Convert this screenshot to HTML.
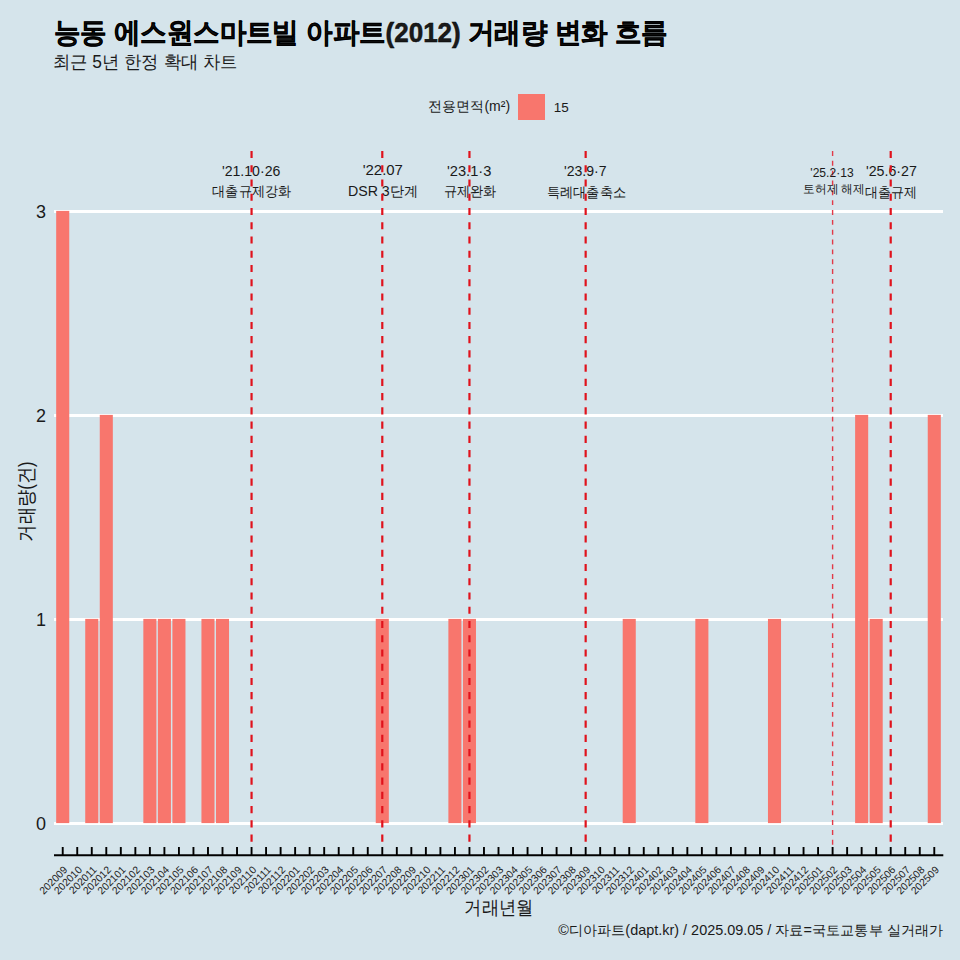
<!DOCTYPE html>
<html><head><meta charset="utf-8"><style>
html,body{margin:0;padding:0;background:#d5e4eb;width:960px;height:960px;overflow:hidden}
svg{position:absolute;left:0;top:0}
text{font-family:"Liberation Sans",sans-serif;fill:#1a1a1a}
.xl{fill:#222}
</style></head><body>
<svg width="960" height="960" viewBox="0 0 960 960">
<text id="t_title" x="53.52" y="42.44" font-size="27.50" font-weight="bold" fill="#000" textLength="614.16" lengthAdjust="spacingAndGlyphs" stroke="#000" stroke-width="0.5">능동 에스원스마트빌 아파트(2012) 거래량 변화 흐름</text>
<text id="t_sub" x="52.60" y="68.38" font-size="18.00" fill="#222" textLength="185.25" lengthAdjust="spacingAndGlyphs">최근 5년 한정 확대 차트</text>
<text id="t_legt" x="428.40" y="111.30" font-size="14.00" fill="#111" textLength="81.67" lengthAdjust="spacingAndGlyphs">전용면적(m²)</text>
<rect x="518" y="94" width="27" height="26" fill="#F8766D"/>
<text id="t_15" x="553.68" y="111.58" font-size="12.00" fill="#111" textLength="14.99" lengthAdjust="spacingAndGlyphs">15</text>
<line x1="54.0" x2="943.0" y1="823.50" y2="823.50" stroke="#fff" stroke-width="2.8"/>
<line x1="54.0" x2="943.0" y1="619.50" y2="619.50" stroke="#fff" stroke-width="2.8"/>
<line x1="54.0" x2="943.0" y1="415.50" y2="415.50" stroke="#fff" stroke-width="2.8"/>
<line x1="54.0" x2="943.0" y1="211.50" y2="211.50" stroke="#fff" stroke-width="2.8"/>
<rect x="56.18" y="210.90" width="13.07" height="612.20" fill="#F8766D"/>
<rect x="85.23" y="618.90" width="13.07" height="204.20" fill="#F8766D"/>
<rect x="99.76" y="414.90" width="13.07" height="408.20" fill="#F8766D"/>
<rect x="143.34" y="618.90" width="13.07" height="204.20" fill="#F8766D"/>
<rect x="157.86" y="618.90" width="13.07" height="204.20" fill="#F8766D"/>
<rect x="172.39" y="618.90" width="13.07" height="204.20" fill="#F8766D"/>
<rect x="201.44" y="618.90" width="13.07" height="204.20" fill="#F8766D"/>
<rect x="215.97" y="618.90" width="13.07" height="204.20" fill="#F8766D"/>
<rect x="375.75" y="618.90" width="13.07" height="204.20" fill="#F8766D"/>
<rect x="448.38" y="618.90" width="13.07" height="204.20" fill="#F8766D"/>
<rect x="462.91" y="618.90" width="13.07" height="204.20" fill="#F8766D"/>
<rect x="622.70" y="618.90" width="13.07" height="204.20" fill="#F8766D"/>
<rect x="695.33" y="618.90" width="13.07" height="204.20" fill="#F8766D"/>
<rect x="767.96" y="618.90" width="13.07" height="204.20" fill="#F8766D"/>
<rect x="855.12" y="414.90" width="13.07" height="408.20" fill="#F8766D"/>
<rect x="869.64" y="618.90" width="13.07" height="204.20" fill="#F8766D"/>
<rect x="927.75" y="414.90" width="13.07" height="408.20" fill="#F8766D"/>
<line x1="54.0" x2="943.3" y1="855.2" y2="855.2" stroke="#000" stroke-width="1.9"/>
<line x1="62.72" x2="62.72" y1="847" y2="855.2" stroke="#000" stroke-width="1.9"/>
<line x1="77.24" x2="77.24" y1="847" y2="855.2" stroke="#000" stroke-width="1.9"/>
<line x1="91.77" x2="91.77" y1="847" y2="855.2" stroke="#000" stroke-width="1.9"/>
<line x1="106.29" x2="106.29" y1="847" y2="855.2" stroke="#000" stroke-width="1.9"/>
<line x1="120.82" x2="120.82" y1="847" y2="855.2" stroke="#000" stroke-width="1.9"/>
<line x1="135.35" x2="135.35" y1="847" y2="855.2" stroke="#000" stroke-width="1.9"/>
<line x1="149.87" x2="149.87" y1="847" y2="855.2" stroke="#000" stroke-width="1.9"/>
<line x1="164.40" x2="164.40" y1="847" y2="855.2" stroke="#000" stroke-width="1.9"/>
<line x1="178.92" x2="178.92" y1="847" y2="855.2" stroke="#000" stroke-width="1.9"/>
<line x1="193.45" x2="193.45" y1="847" y2="855.2" stroke="#000" stroke-width="1.9"/>
<line x1="207.98" x2="207.98" y1="847" y2="855.2" stroke="#000" stroke-width="1.9"/>
<line x1="222.50" x2="222.50" y1="847" y2="855.2" stroke="#000" stroke-width="1.9"/>
<line x1="237.03" x2="237.03" y1="847" y2="855.2" stroke="#000" stroke-width="1.9"/>
<line x1="251.56" x2="251.56" y1="847" y2="855.2" stroke="#000" stroke-width="1.9"/>
<line x1="266.08" x2="266.08" y1="847" y2="855.2" stroke="#000" stroke-width="1.9"/>
<line x1="280.61" x2="280.61" y1="847" y2="855.2" stroke="#000" stroke-width="1.9"/>
<line x1="295.13" x2="295.13" y1="847" y2="855.2" stroke="#000" stroke-width="1.9"/>
<line x1="309.66" x2="309.66" y1="847" y2="855.2" stroke="#000" stroke-width="1.9"/>
<line x1="324.19" x2="324.19" y1="847" y2="855.2" stroke="#000" stroke-width="1.9"/>
<line x1="338.71" x2="338.71" y1="847" y2="855.2" stroke="#000" stroke-width="1.9"/>
<line x1="353.24" x2="353.24" y1="847" y2="855.2" stroke="#000" stroke-width="1.9"/>
<line x1="367.76" x2="367.76" y1="847" y2="855.2" stroke="#000" stroke-width="1.9"/>
<line x1="382.29" x2="382.29" y1="847" y2="855.2" stroke="#000" stroke-width="1.9"/>
<line x1="396.82" x2="396.82" y1="847" y2="855.2" stroke="#000" stroke-width="1.9"/>
<line x1="411.34" x2="411.34" y1="847" y2="855.2" stroke="#000" stroke-width="1.9"/>
<line x1="425.87" x2="425.87" y1="847" y2="855.2" stroke="#000" stroke-width="1.9"/>
<line x1="440.40" x2="440.40" y1="847" y2="855.2" stroke="#000" stroke-width="1.9"/>
<line x1="454.92" x2="454.92" y1="847" y2="855.2" stroke="#000" stroke-width="1.9"/>
<line x1="469.45" x2="469.45" y1="847" y2="855.2" stroke="#000" stroke-width="1.9"/>
<line x1="483.97" x2="483.97" y1="847" y2="855.2" stroke="#000" stroke-width="1.9"/>
<line x1="498.50" x2="498.50" y1="847" y2="855.2" stroke="#000" stroke-width="1.9"/>
<line x1="513.03" x2="513.03" y1="847" y2="855.2" stroke="#000" stroke-width="1.9"/>
<line x1="527.55" x2="527.55" y1="847" y2="855.2" stroke="#000" stroke-width="1.9"/>
<line x1="542.08" x2="542.08" y1="847" y2="855.2" stroke="#000" stroke-width="1.9"/>
<line x1="556.60" x2="556.60" y1="847" y2="855.2" stroke="#000" stroke-width="1.9"/>
<line x1="571.13" x2="571.13" y1="847" y2="855.2" stroke="#000" stroke-width="1.9"/>
<line x1="585.66" x2="585.66" y1="847" y2="855.2" stroke="#000" stroke-width="1.9"/>
<line x1="600.18" x2="600.18" y1="847" y2="855.2" stroke="#000" stroke-width="1.9"/>
<line x1="614.71" x2="614.71" y1="847" y2="855.2" stroke="#000" stroke-width="1.9"/>
<line x1="629.24" x2="629.24" y1="847" y2="855.2" stroke="#000" stroke-width="1.9"/>
<line x1="643.76" x2="643.76" y1="847" y2="855.2" stroke="#000" stroke-width="1.9"/>
<line x1="658.29" x2="658.29" y1="847" y2="855.2" stroke="#000" stroke-width="1.9"/>
<line x1="672.81" x2="672.81" y1="847" y2="855.2" stroke="#000" stroke-width="1.9"/>
<line x1="687.34" x2="687.34" y1="847" y2="855.2" stroke="#000" stroke-width="1.9"/>
<line x1="701.87" x2="701.87" y1="847" y2="855.2" stroke="#000" stroke-width="1.9"/>
<line x1="716.39" x2="716.39" y1="847" y2="855.2" stroke="#000" stroke-width="1.9"/>
<line x1="730.92" x2="730.92" y1="847" y2="855.2" stroke="#000" stroke-width="1.9"/>
<line x1="745.44" x2="745.44" y1="847" y2="855.2" stroke="#000" stroke-width="1.9"/>
<line x1="759.97" x2="759.97" y1="847" y2="855.2" stroke="#000" stroke-width="1.9"/>
<line x1="774.50" x2="774.50" y1="847" y2="855.2" stroke="#000" stroke-width="1.9"/>
<line x1="789.02" x2="789.02" y1="847" y2="855.2" stroke="#000" stroke-width="1.9"/>
<line x1="803.55" x2="803.55" y1="847" y2="855.2" stroke="#000" stroke-width="1.9"/>
<line x1="818.08" x2="818.08" y1="847" y2="855.2" stroke="#000" stroke-width="1.9"/>
<line x1="832.60" x2="832.60" y1="847" y2="855.2" stroke="#000" stroke-width="1.9"/>
<line x1="847.13" x2="847.13" y1="847" y2="855.2" stroke="#000" stroke-width="1.9"/>
<line x1="861.65" x2="861.65" y1="847" y2="855.2" stroke="#000" stroke-width="1.9"/>
<line x1="876.18" x2="876.18" y1="847" y2="855.2" stroke="#000" stroke-width="1.9"/>
<line x1="890.71" x2="890.71" y1="847" y2="855.2" stroke="#000" stroke-width="1.9"/>
<line x1="905.23" x2="905.23" y1="847" y2="855.2" stroke="#000" stroke-width="1.9"/>
<line x1="919.76" x2="919.76" y1="847" y2="855.2" stroke="#000" stroke-width="1.9"/>
<line x1="934.28" x2="934.28" y1="847" y2="855.2" stroke="#000" stroke-width="1.9"/>
<text class="xl" font-size="10.4" transform="translate(68.22,870.5) rotate(-45)" text-anchor="end">202009</text>
<text class="xl" font-size="10.4" transform="translate(82.74,870.5) rotate(-45)" text-anchor="end">202010</text>
<text class="xl" font-size="10.4" transform="translate(97.27,870.5) rotate(-45)" text-anchor="end">202011</text>
<text class="xl" font-size="10.4" transform="translate(111.79,870.5) rotate(-45)" text-anchor="end">202012</text>
<text class="xl" font-size="10.4" transform="translate(126.32,870.5) rotate(-45)" text-anchor="end">202101</text>
<text class="xl" font-size="10.4" transform="translate(140.85,870.5) rotate(-45)" text-anchor="end">202102</text>
<text class="xl" font-size="10.4" transform="translate(155.37,870.5) rotate(-45)" text-anchor="end">202103</text>
<text class="xl" font-size="10.4" transform="translate(169.90,870.5) rotate(-45)" text-anchor="end">202104</text>
<text class="xl" font-size="10.4" transform="translate(184.42,870.5) rotate(-45)" text-anchor="end">202105</text>
<text class="xl" font-size="10.4" transform="translate(198.95,870.5) rotate(-45)" text-anchor="end">202106</text>
<text class="xl" font-size="10.4" transform="translate(213.48,870.5) rotate(-45)" text-anchor="end">202107</text>
<text class="xl" font-size="10.4" transform="translate(228.00,870.5) rotate(-45)" text-anchor="end">202108</text>
<text class="xl" font-size="10.4" transform="translate(242.53,870.5) rotate(-45)" text-anchor="end">202109</text>
<text class="xl" font-size="10.4" transform="translate(257.06,870.5) rotate(-45)" text-anchor="end">202110</text>
<text class="xl" font-size="10.4" transform="translate(271.58,870.5) rotate(-45)" text-anchor="end">202111</text>
<text class="xl" font-size="10.4" transform="translate(286.11,870.5) rotate(-45)" text-anchor="end">202112</text>
<text class="xl" font-size="10.4" transform="translate(300.63,870.5) rotate(-45)" text-anchor="end">202201</text>
<text class="xl" font-size="10.4" transform="translate(315.16,870.5) rotate(-45)" text-anchor="end">202202</text>
<text class="xl" font-size="10.4" transform="translate(329.69,870.5) rotate(-45)" text-anchor="end">202203</text>
<text class="xl" font-size="10.4" transform="translate(344.21,870.5) rotate(-45)" text-anchor="end">202204</text>
<text class="xl" font-size="10.4" transform="translate(358.74,870.5) rotate(-45)" text-anchor="end">202205</text>
<text class="xl" font-size="10.4" transform="translate(373.26,870.5) rotate(-45)" text-anchor="end">202206</text>
<text class="xl" font-size="10.4" transform="translate(387.79,870.5) rotate(-45)" text-anchor="end">202207</text>
<text class="xl" font-size="10.4" transform="translate(402.32,870.5) rotate(-45)" text-anchor="end">202208</text>
<text class="xl" font-size="10.4" transform="translate(416.84,870.5) rotate(-45)" text-anchor="end">202209</text>
<text class="xl" font-size="10.4" transform="translate(431.37,870.5) rotate(-45)" text-anchor="end">202210</text>
<text class="xl" font-size="10.4" transform="translate(445.90,870.5) rotate(-45)" text-anchor="end">202211</text>
<text class="xl" font-size="10.4" transform="translate(460.42,870.5) rotate(-45)" text-anchor="end">202212</text>
<text class="xl" font-size="10.4" transform="translate(474.95,870.5) rotate(-45)" text-anchor="end">202301</text>
<text class="xl" font-size="10.4" transform="translate(489.47,870.5) rotate(-45)" text-anchor="end">202302</text>
<text class="xl" font-size="10.4" transform="translate(504.00,870.5) rotate(-45)" text-anchor="end">202303</text>
<text class="xl" font-size="10.4" transform="translate(518.53,870.5) rotate(-45)" text-anchor="end">202304</text>
<text class="xl" font-size="10.4" transform="translate(533.05,870.5) rotate(-45)" text-anchor="end">202305</text>
<text class="xl" font-size="10.4" transform="translate(547.58,870.5) rotate(-45)" text-anchor="end">202306</text>
<text class="xl" font-size="10.4" transform="translate(562.10,870.5) rotate(-45)" text-anchor="end">202307</text>
<text class="xl" font-size="10.4" transform="translate(576.63,870.5) rotate(-45)" text-anchor="end">202308</text>
<text class="xl" font-size="10.4" transform="translate(591.16,870.5) rotate(-45)" text-anchor="end">202309</text>
<text class="xl" font-size="10.4" transform="translate(605.68,870.5) rotate(-45)" text-anchor="end">202310</text>
<text class="xl" font-size="10.4" transform="translate(620.21,870.5) rotate(-45)" text-anchor="end">202311</text>
<text class="xl" font-size="10.4" transform="translate(634.74,870.5) rotate(-45)" text-anchor="end">202312</text>
<text class="xl" font-size="10.4" transform="translate(649.26,870.5) rotate(-45)" text-anchor="end">202401</text>
<text class="xl" font-size="10.4" transform="translate(663.79,870.5) rotate(-45)" text-anchor="end">202402</text>
<text class="xl" font-size="10.4" transform="translate(678.31,870.5) rotate(-45)" text-anchor="end">202403</text>
<text class="xl" font-size="10.4" transform="translate(692.84,870.5) rotate(-45)" text-anchor="end">202404</text>
<text class="xl" font-size="10.4" transform="translate(707.37,870.5) rotate(-45)" text-anchor="end">202405</text>
<text class="xl" font-size="10.4" transform="translate(721.89,870.5) rotate(-45)" text-anchor="end">202406</text>
<text class="xl" font-size="10.4" transform="translate(736.42,870.5) rotate(-45)" text-anchor="end">202407</text>
<text class="xl" font-size="10.4" transform="translate(750.94,870.5) rotate(-45)" text-anchor="end">202408</text>
<text class="xl" font-size="10.4" transform="translate(765.47,870.5) rotate(-45)" text-anchor="end">202409</text>
<text class="xl" font-size="10.4" transform="translate(780.00,870.5) rotate(-45)" text-anchor="end">202410</text>
<text class="xl" font-size="10.4" transform="translate(794.52,870.5) rotate(-45)" text-anchor="end">202411</text>
<text class="xl" font-size="10.4" transform="translate(809.05,870.5) rotate(-45)" text-anchor="end">202412</text>
<text class="xl" font-size="10.4" transform="translate(823.58,870.5) rotate(-45)" text-anchor="end">202501</text>
<text class="xl" font-size="10.4" transform="translate(838.10,870.5) rotate(-45)" text-anchor="end">202502</text>
<text class="xl" font-size="10.4" transform="translate(852.63,870.5) rotate(-45)" text-anchor="end">202503</text>
<text class="xl" font-size="10.4" transform="translate(867.15,870.5) rotate(-45)" text-anchor="end">202504</text>
<text class="xl" font-size="10.4" transform="translate(881.68,870.5) rotate(-45)" text-anchor="end">202505</text>
<text class="xl" font-size="10.4" transform="translate(896.21,870.5) rotate(-45)" text-anchor="end">202506</text>
<text class="xl" font-size="10.4" transform="translate(910.73,870.5) rotate(-45)" text-anchor="end">202507</text>
<text class="xl" font-size="10.4" transform="translate(925.26,870.5) rotate(-45)" text-anchor="end">202508</text>
<text class="xl" font-size="10.4" transform="translate(939.78,870.5) rotate(-45)" text-anchor="end">202509</text>
<line x1="832.60" x2="832.60" y1="151" y2="847" stroke="#e23a48" stroke-width="1.4" stroke-dasharray="4.92 4.92"/>
<text id="t_a5t" x="810.36" y="177.14" font-size="12.00" fill="#111" textLength="43.24" lengthAdjust="spacingAndGlyphs">'25.2·13</text>
<text id="t_a5b" x="803.20" y="193.37" font-size="11.80" fill="#111" textLength="61.69" lengthAdjust="spacingAndGlyphs">토허제 해제</text>
<text id="t_a1t" x="222.00" y="175.72" font-size="14.00" fill="#111" textLength="58.33" lengthAdjust="spacingAndGlyphs">'21.10·26</text>
<text id="t_a1b" x="212.40" y="196.41" font-size="13.80" fill="#111" textLength="78.65" lengthAdjust="spacingAndGlyphs">대출규제강화</text>
<text id="t_a2t" x="362.68" y="175.42" font-size="14.00" fill="#111" textLength="40.28" lengthAdjust="spacingAndGlyphs">'22.07</text>
<text id="t_a2b" x="347.96" y="196.21" font-size="14.00" fill="#111" textLength="70.15" lengthAdjust="spacingAndGlyphs">DSR 3단계</text>
<text id="t_a3t" x="447.00" y="176.00" font-size="14.00" fill="#111" textLength="44.32" lengthAdjust="spacingAndGlyphs">'23.1·3</text>
<text id="t_a3b" x="443.52" y="196.35" font-size="14.00" fill="#111" textLength="52.59" lengthAdjust="spacingAndGlyphs">규제완화</text>
<text id="t_a4t" x="564.00" y="176.10" font-size="14.00" fill="#111" textLength="42.61" lengthAdjust="spacingAndGlyphs">'23.9·7</text>
<text id="t_a4b" x="546.60" y="196.64" font-size="13.60" fill="#111" textLength="79.38" lengthAdjust="spacingAndGlyphs">특례대출축소</text>
<text id="t_a6t" x="866.00" y="176.00" font-size="14.00" fill="#111" textLength="50.91" lengthAdjust="spacingAndGlyphs">'25.6·27</text>
<text id="t_a6b" x="864.50" y="196.86" font-size="13.80" fill="#111" textLength="52.00" lengthAdjust="spacingAndGlyphs">대출규제</text>
<line x1="251.56" x2="251.56" y1="151" y2="847" stroke="#e0121c" stroke-width="2.2" stroke-dasharray="7.12 7.12"/>
<line x1="382.29" x2="382.29" y1="151" y2="847" stroke="#e0121c" stroke-width="2.2" stroke-dasharray="7.12 7.12"/>
<line x1="469.45" x2="469.45" y1="151" y2="847" stroke="#e0121c" stroke-width="2.2" stroke-dasharray="7.12 7.12"/>
<line x1="585.66" x2="585.66" y1="151" y2="847" stroke="#e0121c" stroke-width="2.2" stroke-dasharray="7.12 7.12"/>
<line x1="890.71" x2="890.71" y1="151" y2="847" stroke="#e0121c" stroke-width="2.2" stroke-dasharray="7.12 7.12"/>
<text x="46" y="830.00" font-size="18" fill="#111" text-anchor="end">0</text>
<text x="46" y="626.00" font-size="18" fill="#111" text-anchor="end">1</text>
<text x="46" y="422.00" font-size="18" fill="#111" text-anchor="end">2</text>
<text x="46" y="218.00" font-size="18" fill="#111" text-anchor="end">3</text>
<text id="t_xtitle" x="464.40" y="913.53" font-size="19.00" fill="#111" textLength="69.19" lengthAdjust="spacingAndGlyphs">거래년월</text>
<text id="t_ytitle" transform="translate(33,501.5) rotate(-90)" font-size="19.5" fill="#111" text-anchor="middle" textLength="80.50" lengthAdjust="spacingAndGlyphs">거래량(건)</text>
<text id="t_cap" x="558.24" y="935.46" font-size="14.30" fill="#111" textLength="384.94" lengthAdjust="spacingAndGlyphs">©디아파트(dapt.kr) / 2025.09.05 / 자료=국토교통부 실거래가</text>
</svg>
</body></html>
